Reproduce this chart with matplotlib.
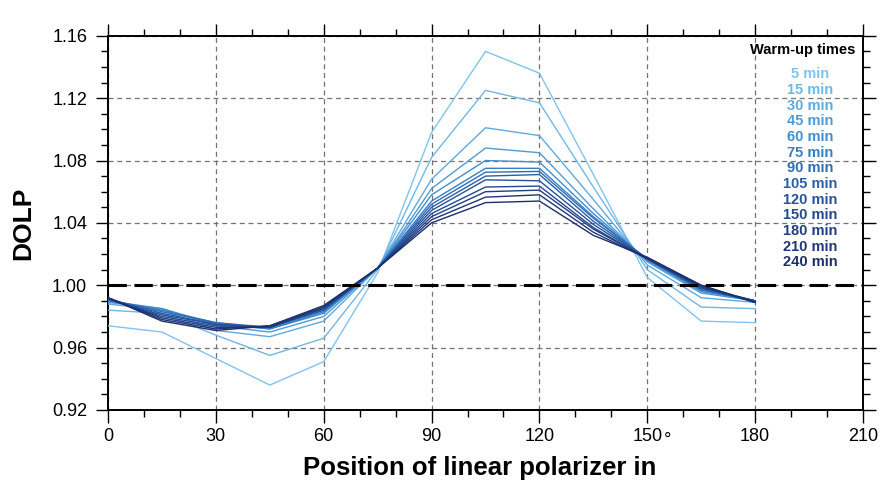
import numpy as np
import matplotlib
matplotlib.use("Agg")
import matplotlib.pyplot as plt
from matplotlib.ticker import MultipleLocator

plt.rcParams['font.family'] = ['Liberation Sans', 'DejaVu Sans']

# polarizer positions (deg)
angles = [0, 15, 30, 45, 60, 75, 90, 105, 120, 135, 150, 165, 180]

warmup = ['5 min', '15 min', '30 min', '45 min', '60 min', '75 min', '90 min',
          '105 min', '120 min', '150 min', '180 min', '210 min', '240 min']

dolp_5 = [0.974, 0.970, 0.953, 0.936, 0.951, 1.008, 1.098, 1.150, 1.136, 1.071, 1.005, 0.977, 0.976]
dolp_15 = [0.984, 0.982, 0.968, 0.955, 0.966, 1.010, 1.082, 1.125, 1.117, 1.063, 1.010, 0.986, 0.985]
dolp_30 = [0.988, 0.984, 0.971, 0.967, 0.977, 1.011, 1.068, 1.101, 1.096, 1.055, 1.013, 0.992, 0.989]
dolp_45 = [0.989, 0.985, 0.974, 0.970, 0.980, 1.011, 1.062, 1.088, 1.085, 1.049, 1.015, 0.995, 0.990]
dolp_60 = [0.990, 0.985, 0.975, 0.972, 0.982, 1.011, 1.058, 1.080, 1.079, 1.046, 1.016, 0.996, 0.990]
dolp_75 = [0.990, 0.984, 0.976, 0.972, 0.983, 1.011, 1.054, 1.075, 1.075, 1.044, 1.016, 0.997, 0.990]
dolp_90 = [0.991, 0.983, 0.976, 0.973, 0.984, 1.011, 1.052, 1.0725, 1.073, 1.043, 1.017, 0.997, 0.990]
dolp_105 = [0.991, 0.982, 0.975, 0.973, 0.984, 1.011, 1.050, 1.070, 1.071, 1.041, 1.017, 0.998, 0.990]
dolp_120 = [0.991, 0.981, 0.975, 0.973, 0.985, 1.011, 1.048, 1.0676, 1.067, 1.039, 1.017, 0.998, 0.990]
dolp_150 = [0.991, 0.980, 0.974, 0.973, 0.985, 1.011, 1.046, 1.063, 1.0636, 1.037, 1.017, 0.999, 0.990]
dolp_180 = [0.992, 0.979, 0.973, 0.973, 0.986, 1.011, 1.044, 1.060, 1.061, 1.036, 1.017, 0.999, 0.989]
dolp_210 = [0.992, 0.978, 0.972, 0.974, 0.986, 1.011, 1.042, 1.0565, 1.058, 1.034, 1.017, 1.000, 0.989]
dolp_240 = [0.992, 0.977, 0.971, 0.974, 0.987, 1.011, 1.040, 1.053, 1.054, 1.032, 1.018, 1.000, 0.989]

series = [dolp_5, dolp_15, dolp_30, dolp_45, dolp_60, dolp_75, dolp_90,
          dolp_105, dolp_120, dolp_150, dolp_180, dolp_210, dolp_240]

colors = ['#80c4ee', '#6fb8e6', '#5eaae0', '#4f9bd6', '#428dcd', '#377fc4', '#2f6db5',
          '#2a5ea8', '#26529c', '#234890', '#213e83', '#1f3676', '#1d2e6a']

fig = plt.figure(figsize=(8.81, 4.93), dpi=100)
ax = fig.add_axes([0.1226, 0.1684, 0.857, 0.759])

for y, c in zip(series, colors):
    ax.plot(angles, y, color=c, lw=1.0, zorder=3)

ax.axhline(1.0, color='black', lw=2.2, linestyle=(0, (6, 2.5)), zorder=4)

ax.set_xlim(0, 210)
ax.set_ylim(0.92, 1.16)
ax.xaxis.set_major_locator(MultipleLocator(30))
ax.xaxis.set_minor_locator(MultipleLocator(10))
ax.yaxis.set_major_locator(MultipleLocator(0.04))
ax.yaxis.set_minor_locator(MultipleLocator(0.01))
ax.yaxis.set_major_formatter(matplotlib.ticker.FormatStrFormatter('%.2f'))

ax.grid(True, which='major', color='0.45', lw=0.9, linestyle=(0, (4, 3)), zorder=1)

ax.tick_params(which='both', direction='out', top=True, right=True,
               labelsize=13, width=1.0, color='black')
ax.tick_params(which='major', length=9, pad=4)
ax.tick_params(which='minor', length=5)
ax.tick_params(axis='y', which='major', pad=6)
for s in ax.spines.values():
    s.set_linewidth(1.4)

ax.set_ylabel('DOLP', fontsize=19, fontweight='bold', labelpad=12)
ax.set_xlabel('Position of linear polarizer in', fontsize=18.5,
              fontweight='bold', labelpad=8)
ax.xaxis.label.set_x((480 - 108) / 755)
# raised degree sign after the axis title
fig.text(668 / 881, 1 - 440 / 493, '\u00b0', fontsize=13, ha='center', va='center')

# legend as coloured text
fig.text(803 / 881, 1 - 50 / 493, 'Warm-up times', fontsize=10.5, fontweight='bold',
         ha='center', va='center', color='black')
for i, (lab, c) in enumerate(zip(warmup, colors)):
    fig.text(810 / 881, 1 - (74.3 + 15.67 * i) / 493, lab, fontsize=10.5,
             fontweight='bold', ha='center', va='center', color=c)

fig.savefig('out.png', dpi=100)
